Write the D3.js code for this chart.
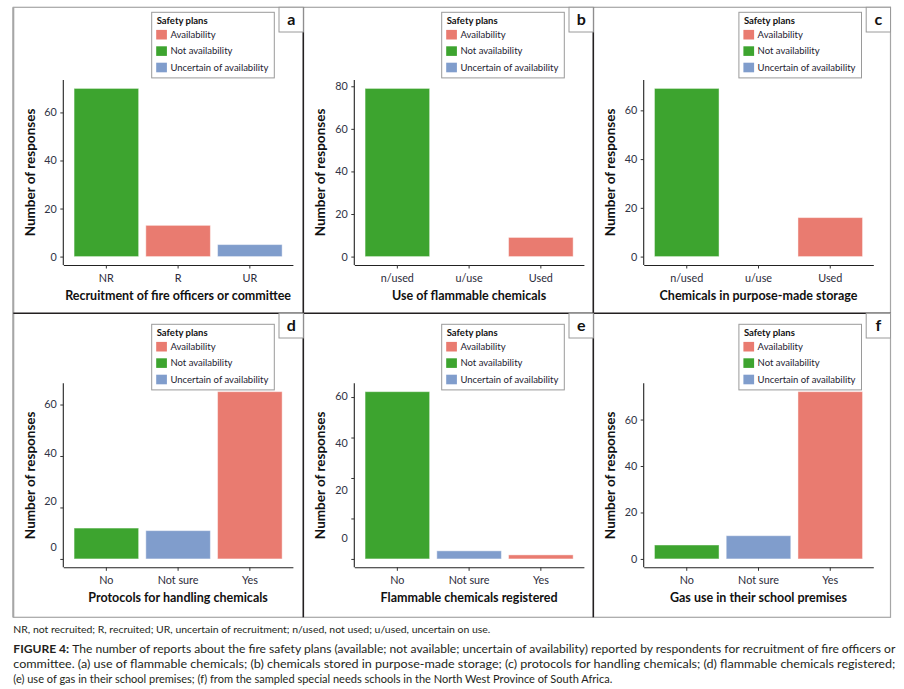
<!DOCTYPE html>
<html>
<head>
<meta charset="utf-8">
<script src="https://cdn.jsdelivr.net/npm/d3@7"></script>
<style>
  body { margin: 0; background: #fff; }
  svg { display: block; font-family: Lato, "Open Sans", sans-serif; }
</style>
</head>
<body>
<div id="chart"></div>
<script>
// legend / fill categories
const safetyKeys = ["Availability", "Not availability", "Uncertain of availability"];
const safetyColors = ["#e97b70", "#3da42f", "#809dcc"];

// panel a
const catsA = ["NR", "R", "UR"];
const valsA = [70, 13, 5];
const keysA = ["Not availability", "Availability", "Uncertain of availability"];
const ticksA = [0, 20, 40, 60];

// panel b
const catsB = ["n/used", "u/use", "Used"];
const valsB = [79, 0, 9];
const keysB = ["Not availability", null, "Availability"];
const ticksB = [0, 20, 40, 60, 80];

// panel c
const catsC = ["n/used", "u/use", "Used"];
const valsC = [69, 0, 16];
const keysC = ["Not availability", null, "Availability"];
const ticksC = [0, 20, 40, 60];

// panel d
const catsD = ["No", "Not sure", "Yes"];
const valsD = [12, 11, 65];
const keysD = ["Not availability", "Uncertain of availability", "Availability"];
const ticksD = [0, 20, 40, 60];

// panel e
const catsE = ["No", "Not sure", "Yes"];
const valsE = [62, 3, 1.5];
const keysE = ["Not availability", "Uncertain of availability", "Availability"];
const ticksE = [0, 15, 30, 45, 60];

// panel f
const catsF = ["No", "Not sure", "Yes"];
const valsF = [6, 10, 72];
const keysF = ["Not availability", "Uncertain of availability", "Availability"];
const ticksF = [0, 20, 40, 60];

// y tick labels (printed numbers)
const tickLabels = [0, 20, 40, 60];
const tickLabelsB = [0, 20, 40, 60, 80];

const xTitles = [
  "Recruitment of fire officers or committee",
  "Use of flammable chemicals",
  "Chemicals in purpose-made storage",
  "Protocols for handling chemicals",
  "Flammable chemicals registered",
  "Gas use in their school premises"
];
const panelLetters = ["a", "b", "c", "d", "e", "f"];

const noteText = "NR, not recruited; R, recruited; UR, uncertain of recruitment; n/used, not used; u/used, uncertain on use.";
const captionLines = [
  "The number of reports about the fire safety plans (available; not available; uncertain of availability) reported by respondents for recruitment of fire officers or",
  "committee. (a) use of flammable chemicals; (b) chemicals stored in purpose-made storage; (c) protocols for handling chemicals; (d) flammable chemicals registered;",
  "(e) use of gas in their school premises; (f) from the sampled special needs schools in the North West Province of South Africa."
];

const panels = [
  { cats: catsA, values: valsA, keys: keysA, ticks: ticksA, labels: tickLabels },
  { cats: catsB, values: valsB, keys: keysB, ticks: ticksB, labels: tickLabelsB },
  { cats: catsC, values: valsC, keys: keysC, ticks: ticksC, labels: tickLabels },
  // the printed labels of d and e sit off their tick marks in the original figure
  { cats: catsD, values: valsD, keys: keysD, ticks: ticksD, labels: tickLabels, labelAt: [4.3, 22.4, 41, 60] },
  { cats: catsE, values: valsE, keys: keysE, ticks: ticksE, labels: tickLabels, labelAt: [7.6, 25.2, 42.7, 60.3] },
  { cats: catsF, values: valsF, keys: keysF, ticks: ticksF, labels: tickLabels }
];

const W = 904, H = 689;
const colAxisX = [63.3, 354.3, 643.7];
const colRight = [303.3, 593.3, 890.5];
const colLeft = [13.3, 303.3, 593.3];
const rowTop = [7.3, 313.3];
const plotTop = [80, 383.3];
const plotBottom = [265, 567.3];
const plotW = 229.6;

const color = d3.scaleOrdinal().domain(safetyKeys).range(safetyColors);

const svg = d3.select("#chart").append("svg")
  .attr("width", W).attr("height", H)
  .attr("viewBox", `0 0 ${W} ${H}`);

svg.append("rect").attr("width", W).attr("height", H).attr("fill", "#fff");

function drawFrame() {
  const g = svg.append("g");
  // outer grey frame
  g.append("rect")
    .attr("x", 13.3).attr("y", 7.3)
    .attr("width", 890.5 - 13.3).attr("height", 617.3 - 7.3)
    .attr("fill", "none").attr("stroke", "#a6a6a6").attr("stroke-width", 1.2);
  g.append("line").attr("x1", 13.3).attr("x2", 13.3).attr("y1", 7.3).attr("y2", 617.3)
    .attr("stroke", "#a6a6a6").attr("stroke-width", 2);
  // dark dividers
  [303.3, 593.3].forEach(xv => {
    g.append("line").attr("x1", xv).attr("x2", xv).attr("y1", 7.3).attr("y2", 617.3)
      .attr("stroke", "#231f20").attr("stroke-width", 1.6);
  });
  g.append("line").attr("x1", 13.3).attr("x2", 890.5).attr("y1", 313.3).attr("y2", 313.3)
    .attr("stroke", "#231f20").attr("stroke-width", 1.6);
}

function drawPanel(p, i) {
  const col = i % 3, row = Math.floor(i / 3);
  const x0 = colAxisX[col], top = plotTop[row], bottom = plotBottom[row];
  const g = svg.append("g");
  const max = d3.max(p.values);

  const x = d3.scaleBand().domain(p.cats)
    .range([x0, x0 + plotW]).paddingInner(0.1).paddingOuter(0.15);
  const y = d3.scaleLinear().domain([-0.05 * max, 1.05 * max]).range([bottom, top]);

  // bars
  g.append("g").selectAll("rect")
    .data(p.cats.map((c, k) => ({ cat: c, value: p.values[k], key: p.keys[k] })).filter(d => d.key))
    .enter().append("rect")
    .attr("x", d => x(d.cat))
    .attr("width", x.bandwidth())
    .attr("y", d => y(d.value))
    .attr("height", d => y(0) - y(d.value))
    .attr("fill", d => color(d.key))
    .attr("stroke", "#fff").attr("stroke-opacity", 0.45).attr("stroke-width", 1);

  // x axis
  const xa = g.append("g").attr("transform", `translate(0,${bottom})`)
    .call(d3.axisBottom(x).tickSize(3.5).tickSizeOuter(0).tickPadding(6));
  xa.selectAll("text").attr("font-size", 10.8).attr("fill", "#2b2b3a").attr("font-family", "Lato");

  // y axis
  const ya = g.append("g").attr("transform", `translate(${x0},0)`)
    .call(d3.axisLeft(y).tickValues(p.ticks).tickSize(3).tickSizeOuter(0).tickPadding(3.5)
      .tickFormat(p.labelAt ? "" : d3.format("d")));
  ya.selectAll("text").attr("font-size", 10.8).attr("fill", "#2f3446").attr("font-family", "Lato");
  ya.select(".domain").attr("d", `M0,${bottom}V${top}`);
  if (p.labelAt) {
    g.append("g").selectAll("text")
      .data(p.labels)
      .enter().append("text")
      .attr("x", x0 - 6.5)
      .attr("y", (d, k) => y(p.labelAt[k]))
      .attr("dy", "0.32em")
      .attr("text-anchor", "end")
      .attr("font-size", 10.8).attr("fill", "#2f3446")
      .text(d => d);
  }
  g.selectAll(".domain").attr("stroke", "#222").attr("stroke-width", 1.1);
  g.selectAll(".tick line").attr("stroke", "#333");

  // axis titles
  g.append("text")
    .attr("x", x0 + plotW / 2).attr("y", bottom + 35)
    .attr("text-anchor", "middle")
    .attr("font-size", 12.5).attr("font-weight", "bold").attr("fill", "#111")
    .text(xTitles[i]);
  g.append("text")
    .attr("transform", `translate(${colLeft[col] + 16.5},${(top + bottom) / 2}) rotate(-90)`)
    .attr("text-anchor", "middle").attr("dy", "0.35em")
    .attr("font-size", 13.5).attr("font-weight", "bold").attr("fill", "#111")
    .text("Number of responses");

  // legend
  const lx = colRight[col] - 151.6, ly = rowTop[row] + 5 + row * 6;
  const lg = g.append("g").attr("transform", `translate(${lx},${ly})`);
  lg.append("rect").attr("width", 122.6).attr("height", 65.6)
    .attr("fill", "#fff").attr("stroke", "#9a9a9a").attr("stroke-width", 1);
  lg.append("text").attr("x", 5).attr("y", 12).attr("font-size", 9.5)
    .attr("font-weight", "bold").attr("fill", "#111").text("Safety plans");
  const item = lg.selectAll(".item").data(safetyKeys).enter().append("g")
    .attr("transform", (d, k) => `translate(4.5,${17.6 + k * 16.4})`);
  item.append("rect").attr("width", 10.7).attr("height", 9.6).attr("fill", d => color(d));
  item.append("text").attr("x", 14.2).attr("y", 4.8).attr("dy", "0.35em")
    .attr("font-size", 9.5).attr("fill", "#1d2230").text(d => d);

  // panel letter
  const bx = colRight[col] - 24.3, by = rowTop[row];
  g.append("rect").attr("x", bx).attr("y", by).attr("width", 24.3).attr("height", 24.7)
    .attr("fill", "#fff").attr("stroke", "#9a9a9a").attr("stroke-width", 1);
  g.append("text").attr("x", bx + 12.2).attr("y", by + 12.5).attr("dy", "0.35em")
    .attr("text-anchor", "middle").attr("font-size", 16).attr("font-weight", "bold")
    .attr("fill", "#111").text(panelLetters[i]);
}

function drawCaption() {
  const g = svg.append("g").attr("fill", "#231f20");
  g.append("text").attr("x", 13.3).attr("y", 632.5).attr("font-size", 9.2)
    .attr("textLength", 477).attr("lengthAdjust", "spacingAndGlyphs")
    .text(noteText);
  captionLines.forEach((line, k) => {
    const t = g.append("text").attr("x", 13.3).attr("y", 653 + k * 15.2).attr("font-size", 10.6);
    if (k === 0) {
      t.append("tspan").attr("font-weight", "bold").text("FIGURE 4: ");
      t.append("tspan").text(line);
      t.attr("textLength", 882).attr("lengthAdjust", "spacingAndGlyphs");
    } else if (k === 1) {
      t.text(line).attr("textLength", 882).attr("lengthAdjust", "spacingAndGlyphs");
    } else {
      t.text(line).attr("textLength", 599).attr("lengthAdjust", "spacingAndGlyphs");
    }
  });
}

drawFrame();
panels.forEach((p, i) => drawPanel(p, i));
drawCaption();
</script>
</body>
</html>
